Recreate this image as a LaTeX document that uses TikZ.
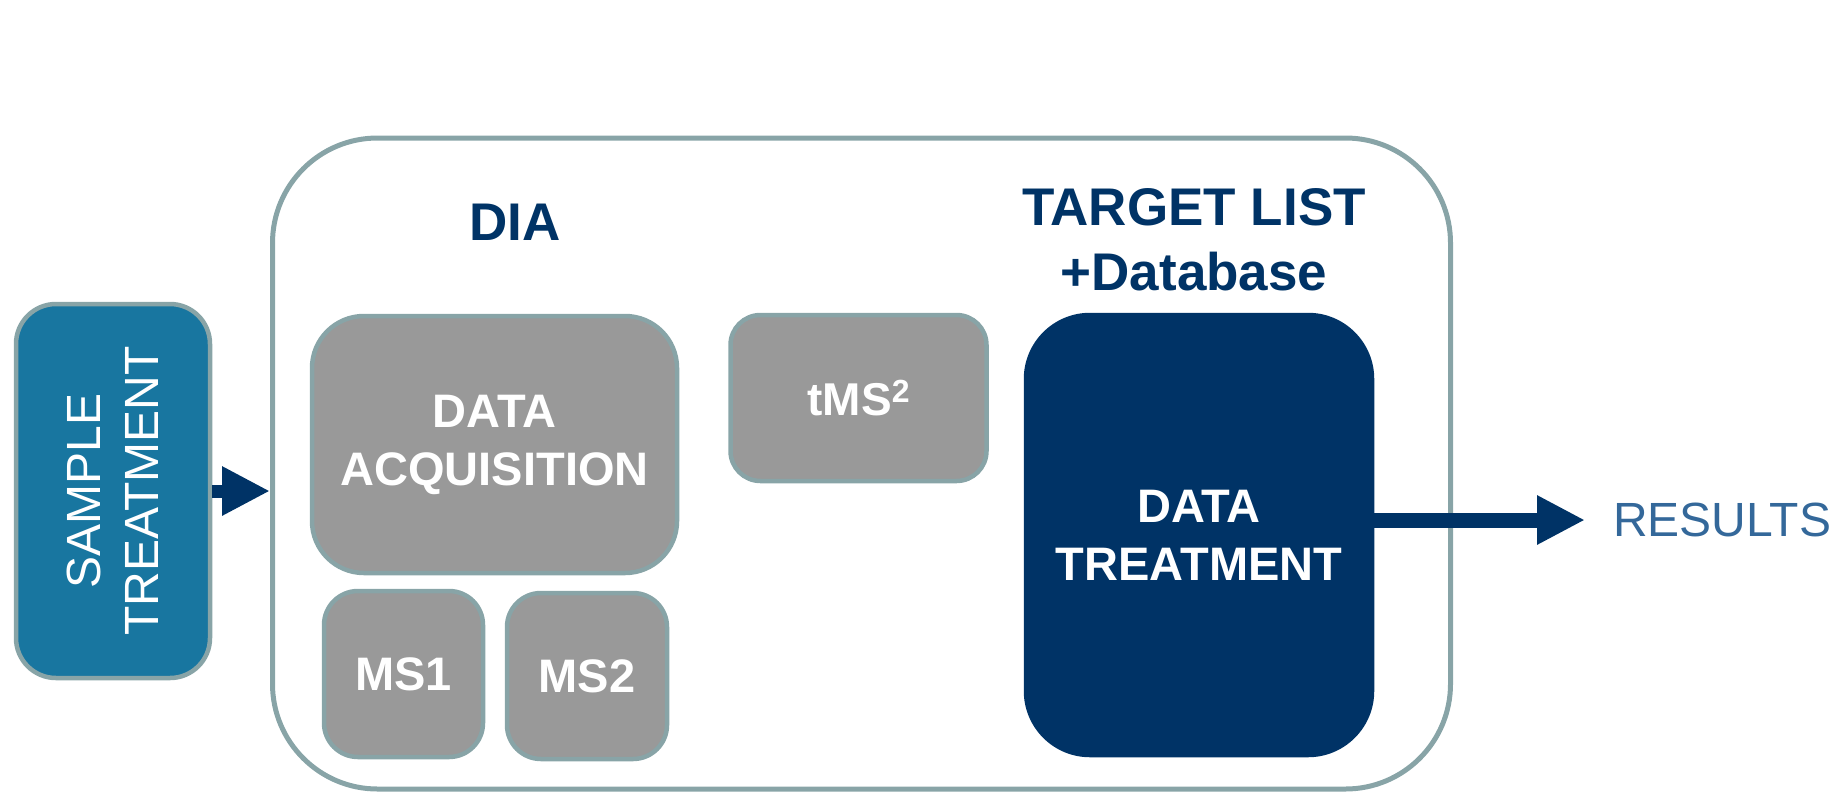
\documentclass[tikz,border=0pt]{standalone}
\usepackage{fontspec}
\setmainfont{Liberation Sans}
\usetikzlibrary{positioning,arrows.meta}
\definecolor{euNavy}{RGB}{0,51,102}
\definecolor{euTeal}{RGB}{24,118,160}
\definecolor{euEdge}{RGB}{136,164,167}
\definecolor{euGray}{RGB}{153,153,153}
\definecolor{euText}{RGB}{52,104,154}

\begin{document}
\begin{tikzpicture}[x=1pt, y=-1pt,
  box/.style={draw=euEdge, line width=4.5pt, fill=euGray, inner sep=0pt, align=center, text=white, font=\fontsize{47}{58}\selectfont\bfseries},
  head/.style={text=euNavy, align=center, font=\fontsize{53}{65}\selectfont\bfseries},
  flow/.style={draw=euNavy, -{Triangle[length=48pt, width=46pt]}}]
  \useasboundingbox (0,0) rectangle (1835,793);
  % frame and titles
  \node[draw=euEdge, line width=5pt, rounded corners=105pt, minimum width=1178pt, minimum height=651pt] (frame) at (861.5,463.5) {};
  \node[head] (dia) at (515,222) {DIA};
  \node[head] (target) at (1194,240) {TARGET LIST\\+Database};
  % boxes
  \node[box, fill=euTeal, font=\fontsize{48}{58}\selectfont, rounded corners=40pt, rotate=90, minimum width=374pt, minimum height=194pt] (sample) at (113,491) {SAMPLE\\TREATMENT};
  \node[box, rounded corners=52pt, minimum width=365pt, minimum height=257pt] (acq) at (494.5,444.5) {DATA\\ACQUISITION};
  \node[box, rounded corners=34pt, minimum width=159pt, minimum height=166pt] (msone) at (403.5,674) {MS1};
  \node[box, rounded corners=34pt, minimum width=160pt, minimum height=166pt] (mstwo) at (587,676) {MS2};
  \node[box, rounded corners=30pt, minimum width=256pt, minimum height=166pt, font=\fontsize{46}{54}\selectfont\bfseries] (tms) at (858.5,398) {tMS\raisebox{0.3em}{\fontsize{32}{36}\selectfont 2}};
  \node[box, draw=euNavy, fill=euNavy, rounded corners=64pt, minimum width=346pt, minimum height=440pt] (treat) at (1199,535) {DATA\\TREATMENT};
  \node[anchor=west, inner xsep=28pt, inner ysep=0pt, text=euText, font=\fontsize{48}{58}\selectfont] (results) at (1585,520) {RESULTS};
  % arrows
  \draw[flow, line width=13pt] (sample.south) -- (sample.south -| frame.west);
  \draw[flow, line width=15pt] (treat.east |- results.west) -- (results.west);
\end{tikzpicture}
\end{document}
